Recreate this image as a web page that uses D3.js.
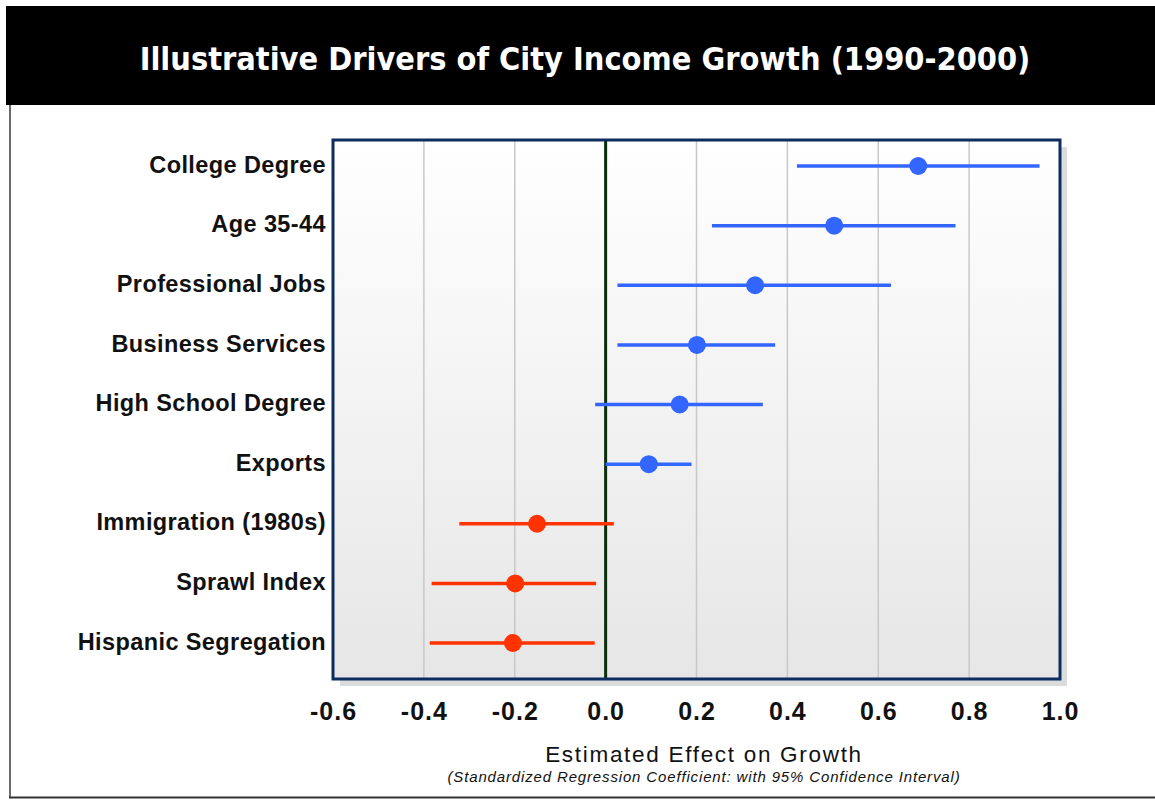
<!DOCTYPE html>
<html>
<head>
<meta charset="utf-8">
<script src="https://cdn.jsdelivr.net/npm/d3@7"></script>
<style>
  body { margin: 0; background: #fff; }
  svg { display: block; }
</style>
</head>
<body>
<svg id="drawspace" width="1155" height="800"></svg>
<script>
// data
const drivers = ["College Degree", "Age 35-44", "Professional Jobs", "Business Services",
  "High School Degree", "Exports", "Immigration (1980s)", "Sprawl Index", "Hispanic Segregation"];
const estimates = [0.688, 0.503, 0.329, 0.201, 0.163, 0.095, -0.151, -0.199, -0.204];
const lowerCI = [0.421, 0.234, 0.026, 0.026, -0.023, 0.0, -0.322, -0.383, -0.387];
const upperCI = [0.955, 0.770, 0.628, 0.373, 0.346, 0.189, 0.018, -0.021, -0.024];
const xTicks = [-0.6, -0.4, -0.2, 0.0, 0.2, 0.4, 0.6, 0.8, 1.0];

let svg = d3.select("#drawspace");
const W = 1155, H = 800;
let plot = { left: 333, right: 1060, top: 140, bottom: 679 };

// page frame
svg.append("rect").attr("x", 6).attr("y", 6).attr("width", W - 6).attr("height", 99).attr("fill", "black");
svg.append("line").attr("x1", 10).attr("x2", 10).attr("y1", 105).attr("y2", 798)
  .attr("stroke", "#6a6a6a").attr("stroke-width", 2);
svg.append("line").attr("x1", 9).attr("x2", W).attr("y1", 797.5).attr("y2", 797.5)
  .attr("stroke", "#333").attr("stroke-width", 2);

svg.append("text")
  .attr("x", 585).attr("y", 70)
  .attr("text-anchor", "middle")
  .attr("fill", "white")
  .attr("font-family", "DejaVu Sans Condensed, DejaVu Sans, sans-serif")
  .attr("font-stretch", "condensed")
  .attr("font-weight", "bold")
  .attr("font-size", 32.2)
  .text("Illustrative Drivers of City Income Growth (1990-2000)");

// gradient background for plot
let defs = svg.append("defs");
let grad = defs.append("linearGradient").attr("id", "bg").attr("x1", 0).attr("x2", 0).attr("y1", 0).attr("y2", 1);
grad.append("stop").attr("offset", "0%").attr("stop-color", "#ffffff");
grad.append("stop").attr("offset", "100%").attr("stop-color", "#e6e6e6");

let xScale = d3.scaleLinear().domain([-0.6, 1.0]).range([plot.left, plot.right]);
let yScale = d3.scalePoint().domain(drivers).range([plot.top + 26, plot.bottom - 36]);

// shadow
svg.append("rect")
  .attr("x", plot.left + 7).attr("y", plot.top + 7)
  .attr("width", plot.right - plot.left).attr("height", plot.bottom - plot.top)
  .attr("fill", "#dcdcdc");
svg.append("rect")
  .attr("x", plot.left).attr("y", plot.top)
  .attr("width", plot.right - plot.left).attr("height", plot.bottom - plot.top)
  .attr("fill", "url(#bg)");

// grid lines
svg.append("g")
  .selectAll("line")
  .data(xTicks.filter((d) => d !== 0 && d !== -0.6 && d !== 1.0))
  .enter()
  .append("line")
  .attr("x1", (d) => xScale(d)).attr("x2", (d) => xScale(d))
  .attr("y1", plot.top).attr("y2", plot.bottom)
  .attr("stroke", "#c8c8c8").attr("stroke-width", 1.5);

// zero line
svg.append("line")
  .attr("x1", xScale(0)).attr("x2", xScale(0))
  .attr("y1", plot.top).attr("y2", plot.bottom)
  .attr("stroke", "#0b2d0b").attr("stroke-width", 3);

let rows = drivers.map((d, i) => ({ name: d, est: estimates[i], lo: lowerCI[i], hi: upperCI[i] }));
let colour = (d) => (d.est < 0 ? "#ff3300" : "#3366ff");

let g = svg.append("g");
g.selectAll("line.ci")
  .data(rows)
  .enter()
  .append("line")
  .attr("class", "ci")
  .attr("x1", (d) => xScale(d.lo)).attr("x2", (d) => xScale(d.hi))
  .attr("y1", (d) => yScale(d.name)).attr("y2", (d) => yScale(d.name))
  .attr("stroke", colour).attr("stroke-width", 3.5);
g.selectAll("circle")
  .data(rows)
  .enter()
  .append("circle")
  .attr("cx", (d) => xScale(d.est)).attr("cy", (d) => yScale(d.name))
  .attr("r", 9)
  .attr("fill", colour);

// frame
svg.append("rect")
  .attr("x", plot.left).attr("y", plot.top)
  .attr("width", plot.right - plot.left).attr("height", plot.bottom - plot.top)
  .attr("fill", "none").attr("stroke", "#0d2d5e").attr("stroke-width", 3);

// category labels
let yAxis = svg.append("g")
  .attr("transform", "translate(" + plot.left + ",0)")
  .call(d3.axisLeft(yScale).tickSize(0).tickPadding(7));
yAxis.select(".domain").remove();
yAxis.selectAll("text")
  .attr("font-family", "Liberation Sans, Arial, sans-serif")
  .attr("font-weight", "bold")
  .attr("font-size", 23.5)
  .attr("letter-spacing", 0.4)
  .attr("dy", "0.26em")
  .attr("fill", "#111");

// x tick labels
let xAxis = svg.append("g")
  .attr("transform", "translate(0," + plot.bottom + ")")
  .call(d3.axisBottom(xScale).tickValues(xTicks).tickFormat(d3.format(".1f")).tickSize(0).tickPadding(23));
xAxis.select(".domain").remove();
xAxis.selectAll("text")
  .attr("font-family", "Liberation Sans, Arial, sans-serif")
  .attr("font-weight", "bold")
  .attr("font-size", 25)
  .attr("letter-spacing", 1)
  .attr("fill", "#111")
  .text((d) => d3.format(".1f")(d).replace("−", "-"));

svg.append("text")
  .attr("x", 704).attr("y", 762)
  .attr("text-anchor", "middle")
  .attr("font-family", "Liberation Sans, Arial, sans-serif")
  .attr("font-size", 22.5)
  .attr("letter-spacing", 1.7)
  .attr("fill", "#111")
  .text("Estimated Effect on Growth");
svg.append("text")
  .attr("x", 704).attr("y", 782)
  .attr("text-anchor", "middle")
  .attr("font-family", "Liberation Sans, Arial, sans-serif")
  .attr("font-style", "italic")
  .attr("font-size", 15)
  .attr("letter-spacing", 0.85)
  .attr("fill", "#111")
  .text("(Standardized Regression Coefficient: with 95% Confidence Interval)");
</script>
</body>
</html>
